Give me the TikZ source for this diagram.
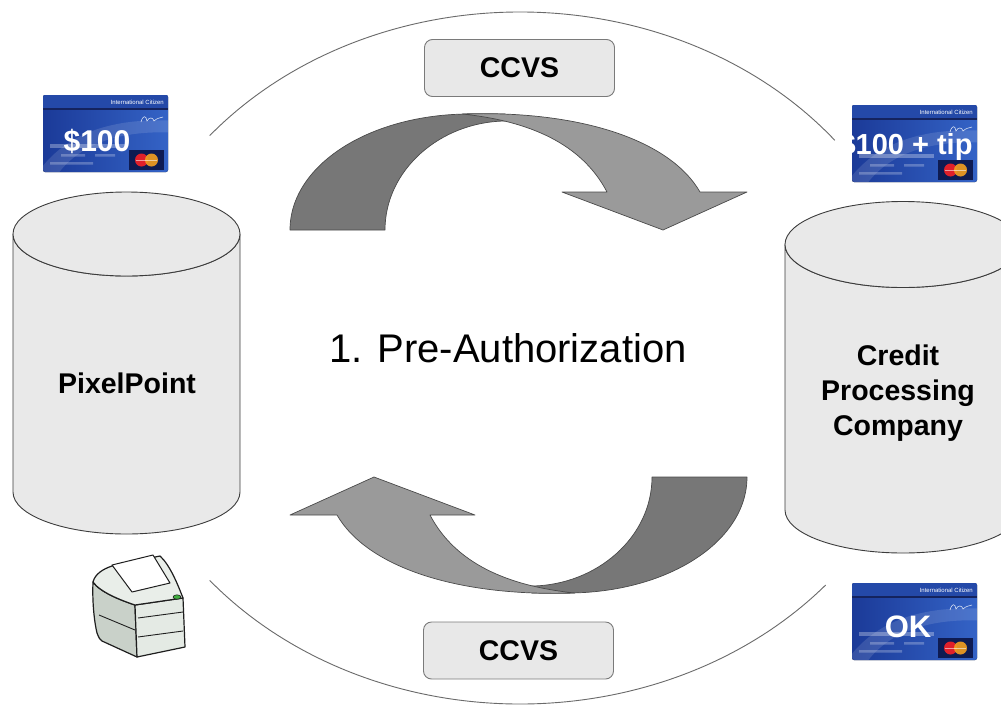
\documentclass[tikz,border=0pt]{standalone}
\usepackage{fontspec}
\setmainfont{Liberation Sans}
\definecolor{cylfill}{HTML}{E9E9E9}
\definecolor{cylline}{HTML}{3C3C3C}
\definecolor{boxfill}{HTML}{E8E8E8}
\definecolor{boxline}{HTML}{7A7A7A}
\definecolor{ringgray}{HTML}{6A6A6A}
\definecolor{arrowdark}{HTML}{777777}
\definecolor{arrowlight}{HTML}{9A9A9A}
\definecolor{arrowline}{HTML}{4A4A4A}
\definecolor{cardA}{HTML}{1B3A98}
\definecolor{cardB}{HTML}{3463C6}
\definecolor{cardtop}{HTML}{2449A8}
\definecolor{cardline}{HTML}{14235E}
\definecolor{mcnavy}{HTML}{0E1B52}
\definecolor{mcred}{HTML}{E0202A}
\definecolor{mcorange}{HTML}{F5A020}
\definecolor{prbody}{HTML}{E4EAE4}
\definecolor{prside}{HTML}{C9D1C9}
\definecolor{prline}{HTML}{1E1E1E}
\definecolor{led}{HTML}{3FAE3F}
\begin{document}
\begin{tikzpicture}[x=1pt,y=-1pt,
  cyl/.style={fill=cylfill, draw=cylline, line width=0.9pt},
  cyllabel/.style={font=\bfseries\fontsize{28.5}{35}\selectfont, align=center, inner sep=0pt},
  ccvsbox/.style={draw=boxline, fill=boxfill, line width=0.9pt, rounded corners=8pt,
    minimum width=190pt, minimum height=57pt, inner sep=0pt,
    font=\bfseries\fontsize{28.5}{30}\selectfont},
  ring/.style={draw=ringgray, line width=0.9pt},
  darkpart/.style={fill=arrowdark, draw=arrowline, line width=0.7pt, line join=round},
  lightpart/.style={fill=arrowlight, draw=arrowline, line width=0.7pt, line join=round},
  cardbig/.style={text=white, inner sep=0pt, font=\bfseries\fontsize{30}{30}\selectfont},
  cardsmall/.style={text=white, inner sep=0pt, font=\fontsize{6}{6}\selectfont},
  % blue payment card, origin at its top left corner, 125 x 77
  card/.pic={
    \fill[left color=cardA, right color=cardB, rounded corners=2pt] (0,0) rectangle (125,77);
    \begin{scope}
      \clip[rounded corners=2pt] (0,0) rectangle (125,77);
      \fill[cardtop] (0,0) rectangle (125,13);
      \fill[white, opacity=0.12] (-10,85) .. controls (20,35) and (75,22) .. (135,26)
        -- (135,38) .. controls (80,34) and (30,48) .. (8,90) -- cycle;
    \end{scope}
    \draw[cardline, line width=1.6pt] (0,14) -- (125,14);
    \node[cardsmall, anchor=east] at (121,7) {International Citizen};
    \draw[white, opacity=0.8, line width=0.6pt] (98,27) .. controls (100,20) and (103,20) .. (104,26)
      .. controls (106,22) and (110,22) .. (111,26) .. controls (114,23) and (117,23) .. (120,22);
    % embossed number, expiry and holder lines
    \fill[white, opacity=0.3] (7,49) rectangle (82,52.5);
    \fill[white, opacity=0.25] (18,59) rectangle (42,61.5) (52,59) rectangle (72,61.5)
      (7,67) rectangle (50,69.5);
    % card scheme logo
    \fill[mcnavy] (86,55) rectangle (121,75);
    \fill[mcred] (98.5,65) circle (6.5);
    \fill[mcorange, opacity=0.9] (108.5,65) circle (6.5);
    \fill[white, opacity=0.55] (93,64.6) rectangle (114,66);
  }
]
\useasboundingbox (0,0) rectangle (1001,707);
\clip (0,0) rectangle (1001,707);
\fill[white] (0,0) rectangle (1001,707);

% outer cycle arcs
\draw[ring] (520,358) ++(220:405 and 346) arc[start angle=220, end angle=321, x radius=405, y radius=346];
\draw[ring] (520,358) ++(140:405 and 346) arc[start angle=140, end angle=41, x radius=405, y radius=346];

% CCVS messages
\node[ccvsbox] (ccvstop) at (519.5,68) {CCVS};
\node[ccvsbox] (ccvsbottom) at (518.5,650.5) {CCVS};

% upper turning arrow (towards the processor)
\path[darkpart] (290,230) .. controls (290,165) and (370,114) .. (470,114) -- (505,114)
  -- (505,121) .. controls (440,122) and (385,170) .. (385,230) -- cycle;
\path[lightpart] (462,114) .. controls (580,110) and (670,140) .. (700,192) -- (747,192)
  -- (663,230) -- (562,192) -- (607,192) .. controls (585,150) and (540,122) .. (462,114) -- cycle;

% lower turning arrow (back to PixelPoint)
\path[darkpart] (747,477) .. controls (747,542) and (667,593) .. (567,593) -- (532,593)
  -- (532,586) .. controls (597,585) and (652,537) .. (652,477) -- cycle;
\path[lightpart] (575,593) .. controls (457,597) and (367,567) .. (337,515) -- (290,515)
  -- (374,477) -- (475,515) -- (430,515) .. controls (452,557) and (497,585) .. (575,593) -- cycle;

% left database
\path[cyl] (13,234) -- (13,492) arc[start angle=180, end angle=0, x radius=113.5, y radius=42]
  -- (240,234) arc[start angle=0, end angle=180, x radius=113.5, y radius=42] -- cycle;
\draw[cyl] (126.5,234) ellipse[x radius=113.5, y radius=42];
\node[cyllabel] (pixelpoint) at (127,383) {PixelPoint};

% right database
\path[cyl] (785,244.5) -- (785,510) arc[start angle=180, end angle=0, x radius=118, y radius=43]
  -- (1021,244.5) arc[start angle=0, end angle=180, x radius=118, y radius=43] -- cycle;
\draw[cyl] (903,244.5) ellipse[x radius=118, y radius=43];
\node[cyllabel] (cpc) at (898,393) {Credit\\Processing\\Company};

% centre caption
\node[inner sep=0pt, font=\fontsize{40}{40}\selectfont] (phase) at (508,348) {1. Pre-Authorization};

% cards
\pic at (43,95) {card};
\node[cardbig] (amount) at (97,141) {\$100};

\pic at (852,105) {card};
\begin{scope}
  \clip (852,105) rectangle (977,182);
  \node[cardbig, font=\bfseries\fontsize{29}{29}\selectfont] (amounttip) at (906,147) {\$100 + tip};
\end{scope}

\pic at (852,583) {card};
\node[cardbig, font=\bfseries\fontsize{31}{31}\selectfont] (ok) at (908,627) {OK};

% receipt printer
\begin{scope}[draw=prline, line width=1.2pt, line join=round]
  \path[draw, fill=prside] (93,582) .. controls (92,605) and (95,625) .. (97,633)
    .. controls (99,638) and (100,640) .. (102,641) -- (137,657) -- (135,605)
    .. controls (120,600) and (100,592) .. (93,582) -- cycle;
  \path[draw, fill=prbody] (135,605) -- (183,598) -- (185,647) -- (137,657) -- cycle;
  \path[draw, fill=prbody!80!white] (93,582) .. controls (95,574) and (103,569) .. (112,566)
    -- (160,556) .. controls (170,565) and (178,585) .. (183,598) -- (135,605)
    .. controls (120,600) and (100,592) .. (93,582) -- cycle;
  \path[draw, fill=white, line width=1pt] (112,565) -- (153,555) -- (170,583) -- (132,592) -- cycle;
  \draw[line width=0.9pt] (138,618) -- (183,612);
  \draw[line width=0.9pt] (138,637) -- (183,631);
  \draw[line width=0.9pt] (99,615) -- (135,630);
  \fill[led, draw=prline, line width=0.6pt] (177,597) ellipse[x radius=4, y radius=2.2];
\end{scope}
\end{tikzpicture}
\end{document}
